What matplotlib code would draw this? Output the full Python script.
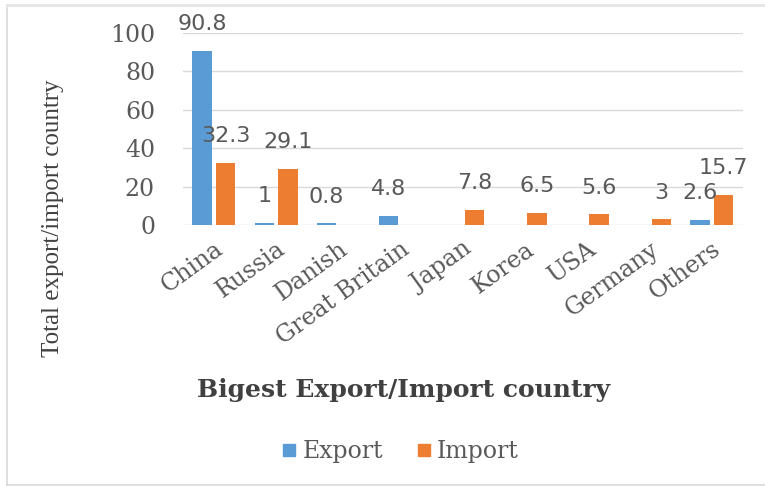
import numpy as np
import matplotlib
matplotlib.use("Agg")
import matplotlib.pyplot as plt
from matplotlib.lines import Line2D

countries = ["China", "Russia", "Danish", "Great Britain", "Japan",
             "Korea", "USA", "Germany", "Others"]
export_vals = [90.8, 1, 0.8, 4.8, None, None, None, None, 2.6]
import_vals = [32.3, 29.1, None, None, 7.8, 6.5, 5.6, 3, 15.7]
y_ticks = [0, 20, 40, 60, 80, 100]

series = [("Export", export_vals, "#5B9BD5"), ("Import", import_vals, "#ED7D31")]

fig = plt.figure(figsize=(7.65, 4.86), dpi=100)
ax = fig.add_axes([0.239, 0.537, 0.732, 0.395])

x = np.arange(len(countries))
width = 0.31
offsets = [-0.19, 0.19]

handles = []
for (name, vals, color), off in zip(series, offsets):
    v = np.array([np.nan if a is None else a for a in vals], dtype=float)
    ax.bar(x + off, np.nan_to_num(v), width, color=color, zorder=3)
    for xi, val in zip(x + off, v):
        if np.isnan(val):
            continue
        ax.annotate(f"{val:g}", (xi, val), xytext=(0, 12),
                    textcoords="offset points", ha="center", va="bottom",
                    fontsize=16, color="#595959", family="DejaVu Sans",
                    zorder=5)
    handles.append(Line2D([], [], marker="s", linestyle="none",
                          markersize=8, color=color, label=name))

ax.set_xlim(-0.5, len(countries) - 0.5)
ax.set_ylim(0, 100)
ax.set_yticks(y_ticks)
ax.set_yticklabels([str(t) for t in y_ticks], family="DejaVu Serif",
                   fontsize=17, color="#595959")
ax.tick_params(axis="y", length=0, pad=20)
ax.set_xticks(x)
ax.set_xticklabels(countries, rotation=36, ha="right", va="top",
                   rotation_mode="anchor", family="DejaVu Serif",
                   fontsize=17, color="#595959")
ax.tick_params(axis="x", length=0, pad=9)

ax.yaxis.grid(True, color="#d9d9d9", linewidth=1, zorder=0)
ax.set_axisbelow(True)
for s in ax.spines.values():
    s.set_visible(False)

fig.text(0.069, 0.551, "Total export/import country", rotation=90,
         ha="center", va="center", family="Liberation Serif", fontsize=18,
         color="#404040")

fig.text(0.527, 0.197, "Bigest Export/Import country", ha="center",
         va="center", family="DejaVu Serif", fontsize=18, fontweight="bold",
         color="#404040")

leg = fig.legend(handles=handles, loc="center", bbox_to_anchor=(0.523, 0.07),
                 ncol=2, frameon=False, handlelength=0.7, handletextpad=0.2,
                 columnspacing=1.4,
                 prop={"family": "DejaVu Serif", "size": 17})
for t in leg.get_texts():
    t.set_color("#595959")

# light chart-area border
fig.add_artist(Line2D([0.009, 0.009], [0.0, 0.99], color="#d9d9d9", lw=1.2,
                      transform=fig.transFigure))
fig.add_artist(Line2D([0.009, 1.0], [0.99, 0.99], color="#e6e6e6", lw=2,
                      transform=fig.transFigure))
fig.add_artist(Line2D([0.009, 1.0], [0.003, 0.003], color="#d9d9d9", lw=1.2,
                      transform=fig.transFigure))

fig.savefig("out.png", dpi=100)
